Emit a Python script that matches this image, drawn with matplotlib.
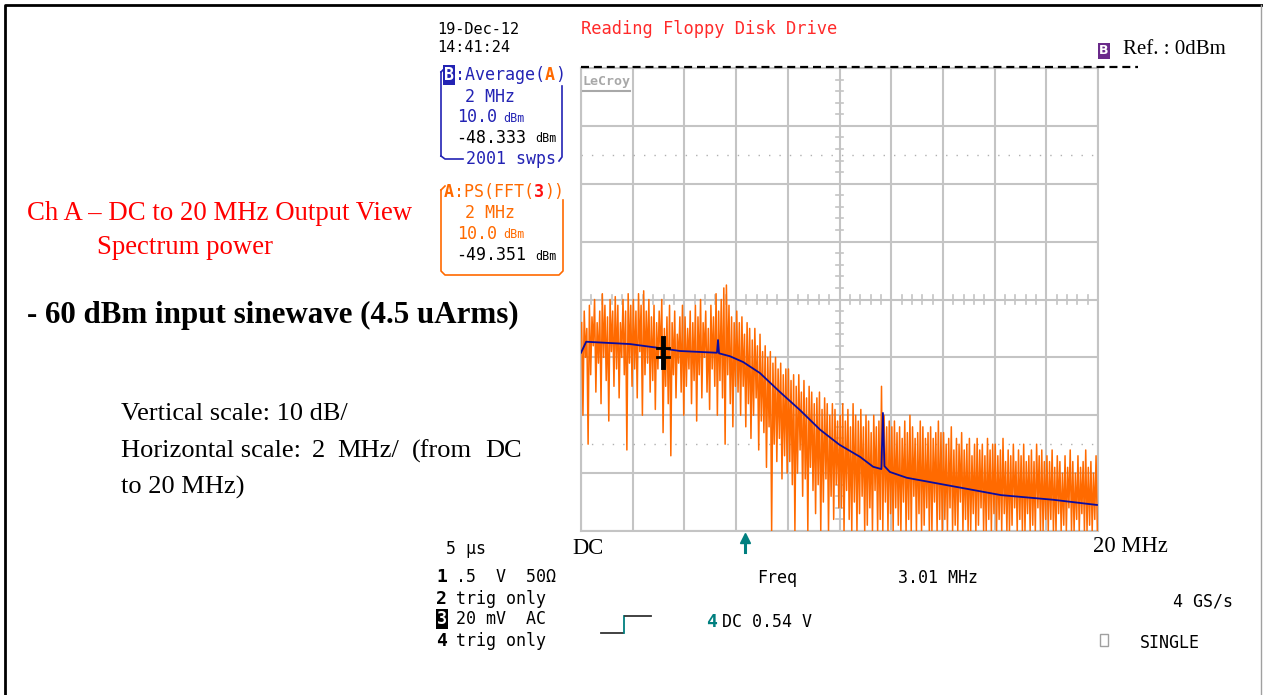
import numpy as np
import matplotlib.pyplot as plt
from matplotlib.lines import Line2D
from matplotlib.patches import Rectangle

W, H = 1263, 695

# Trace B : average, dBm vs MHz
avg_freq = [0.0, 0.2, 1.9, 3.06, 3.83, 5.26, 5.3, 5.34, 5.76, 6.27, 6.92, 7.7, 8.47,
            9.25, 10.0, 10.8, 11.3, 11.62, 11.68, 11.74, 11.95, 12.6, 14.3, 16.25,
            18.26, 19.96]
avg_dbm = [-49.2, -47.3, -47.7, -48.4, -48.9, -49.2, -47.0, -49.3, -49.8, -50.8, -52.7,
           -56.0, -59.1, -62.5, -65.1, -67.2, -68.9, -69.3, -59.6, -68.8, -69.8, -70.8,
           -72.2, -73.8, -74.6, -75.5]

# Trace A : PS(FFT) read as max / min per 0.1 MHz bin (one row = one 2 MHz division)
fft_hi = [
    -44, -42, -45, -41, -43, -40, -44, -42, -39, -41, -43, -40, -42, -39.5, -41, -44, -40, -42, -39, -41,
    -40, -42, -39, -41, -38.5, -42, -40, -43, -41, -44, -42, -40, -45, -43, -41, -44, -42, -46, -43, -41,
    -43, -45, -42, -44, -41, -43, -40, -44, -42, -45, -41, -43, -39, -42, -40, -38, -37.5, -41, -43, -44,
    -42, -44, -43, -46, -44, -45, -47, -45, -48, -46, -49, -48, -50, -49, -51, -50, -52, -51, -53, -52,
    -52, -54, -53, -55, -53, -56, -54, -57, -55, -56, -58, -57, -56, -59, -57, -58, -60, -58, -59, -61,
    -60, -58, -61, -59, -62, -58, -60, -61, -59, -62, -60, -61, -63, -60, -62, -61, -55, -60, -62, -61,
    -62, -61, -63, -62, -64, -61, -63, -60, -62, -64, -63, -61, -62, -64, -63, -62, -64, -63, -61, -63,
    -63, -65, -64, -62, -66, -64, -65, -63, -66, -65, -64, -67, -65, -64, -66, -65, -67, -64, -66, -65,
    -65, -67, -66, -64, -68, -66, -67, -65, -68, -66, -67, -65, -68, -67, -66, -68, -65, -67, -66, -68,
    -67, -68, -66, -69, -67, -68, -70, -67, -69, -66, -68, -70, -67, -69, -68, -66, -69, -68, -70, -67,
]
fft_lo = [
    -60, -50, -65, -53, -48, -56, -51, -58, -50, -54, -61, -49, -55, -52, -57, -50, -53, -66, -51, -55,
    -52, -57, -49, -60, -53, -51, -56, -54, -59, -52, -50, -63, -55, -58, -67, -53, -57, -51, -56, -60,
    -55, -52, -58, -54, -61, -53, -57, -50, -56, -59, -52, -55, -60, -54, -57, -65, -53, -58, -62, -55,
    -56, -60, -55, -62, -58, -64, -60, -57, -66, -61, -63, -69, -62, -80, -65, -68, -64, -71, -67, -70,
    -68, -72, -80, -70, -66, -74, -71, -80, -69, -73, -77, -72, -80, -75, -71, -80, -74, -78, -72, -76,
    -76, -80, -73, -78, -80, -75, -80, -77, -74, -80, -79, -76, -80, -73, -80, -78, -80, -75, -80, -77,
    -80, -76, -79, -80, -75, -80, -78, -80, -74, -80, -77, -80, -79, -76, -80, -80, -75, -80, -78, -80,
    -78, -80, -76, -80, -79, -80, -75, -80, -78, -80, -80, -77, -80, -79, -76, -80, -80, -78, -80, -77,
    -80, -78, -80, -77, -80, -80, -79, -76, -80, -78, -80, -80, -77, -80, -79, -80, -76, -80, -80, -78,
    -80, -78, -80, -80, -77, -80, -79, -80, -76, -80, -80, -78, -80, -77, -80, -80, -79, -80, -78, -80,
]
fft_freq = np.linspace(0.05, 19.95, len(fft_hi))

cursor_freq = 3.17


def px(x):
    return x / W


def py(y):
    return 1 - y / H


def main():
    fig = plt.figure(figsize=(W / 100, H / 100), dpi=100)
    fig.patch.set_facecolor('white')

    grid_col = '#c4c4c4'
    blue = '#2323b4'
    orange = '#ff6a00'
    teal = '#007f7f'

    # screen grid
    ax = fig.add_axes([px(581), py(531), (1098 - 581) / W, (531 - 68) / H])
    ax.set_xlim(0, 20)
    ax.set_ylim(-80, 0)
    ax.set_xticks(np.arange(0, 21, 2))
    ax.set_yticks(np.arange(-80, 1, 10))
    ax.tick_params(length=0, labelbottom=False, labelleft=False)
    ax.grid(True, color=grid_col, lw=1.5)
    for s in ax.spines.values():
        s.set_color(grid_col)
        s.set_linewidth(1.5)
    for lev in (-15, -65):
        ax.axhline(lev, color='#b0b0b0', lw=1, ls=(0, (1, 6.5)))
    # center ticks
    for v in np.arange(-80, 1, 2):
        ax.plot([9.85, 10.15], [v, v], color=grid_col, lw=1.2)
    for f in np.arange(0, 20.01, 0.4):
        ax.plot([f, f], [-40.7, -39.3], color=grid_col, lw=1.2)
    ax.set_axisbelow(True)

    # orange FFT trace
    zx = np.ravel(np.column_stack([fft_freq - 0.025, fft_freq + 0.025]))
    zy = np.ravel(np.column_stack([fft_hi, fft_lo]))
    ax.plot(zx, zy, color=orange, lw=1.1, zorder=3)
    # averaged trace
    ax.plot(avg_freq, avg_dbm, color='#0b0ba0', lw=1.3, zorder=4)
    # cursor
    ax.plot([cursor_freq, cursor_freq], [-46.6, -51.7], color='black', lw=3.5, zorder=5)
    ax.plot([cursor_freq - 0.22, cursor_freq + 0.22], [-48.3, -48.3], color='black', lw=2, zorder=5)
    ax.plot([cursor_freq - 0.22, cursor_freq + 0.22], [-49.9, -49.9], color='black', lw=2, zorder=5)

    # reference dashed line
    fig.add_artist(Line2D([px(581), px(1138)], [py(67), py(67)], color='black',
                          lw=1.6, dashes=(3.6, 2.2)))
    fig.text(px(1104), py(51), 'B', color='white', fontsize=9, fontweight='bold',
             ha='center', va='center',
             bbox=dict(boxstyle='square,pad=0.1', fc='#6a2a8a', ec='none'))
    fig.text(px(1123), py(49), 'Ref. : 0dBm', family='Liberation Serif', fontsize=15,
             ha='left', va='center')

    # LeCroy logo
    fig.text(px(583), py(81), 'LeCroy', color='#a8a8a8', fontsize=9.5, fontweight='bold',
             family='DejaVu Sans Mono', ha='left', va='center')
    fig.add_artist(Line2D([px(583), px(630)], [py(91), py(91)], color='#a8a8a8', lw=1.5))

    mono = dict(family='DejaVu Sans Mono', fontsize=12, va='center', ha='left')

    def mtext(x, y, s, color='black', **kw):
        d = dict(mono)
        d.update(kw)
        fig.text(px(x), py(y), s, color=color, **d)

    mtext(437, 29, '19-Dec-12', fontsize=11)
    mtext(437, 48, '14:41:24', fontsize=11)
    mtext(581, 29, 'Reading Floppy Disk Drive', color='#ff2a2a', fontsize=12.3)

    # B box
    mtext(444, 75, 'B', color='white', fontweight='bold',
          bbox=dict(boxstyle='square,pad=0.05', fc=blue, ec='none'))
    mtext(455, 75, ':Average(', color=blue)
    mtext(545, 75, 'A', color=orange, fontweight='bold')
    mtext(555, 75, ')', color=blue)
    mtext(465, 97, '2 MHz', color=blue)
    mtext(457, 117, '10.0', color=blue)
    mtext(503, 118, 'dBm', color=blue, fontsize=8.5)
    mtext(456, 138, '-48.333', color='black')
    mtext(535, 139, 'dBm', color='black', fontsize=8.5)
    mtext(466, 159, '2001 swps', color=blue)
    for xs, ys in [([441, 441], [72, 156]), ([441, 445, 463], [156, 159, 159]),
                   ([441, 445], [72, 68]), ([562, 562, 559], [86, 157, 161])]:
        fig.add_artist(Line2D([px(v) for v in xs], [py(v) for v in ys], color=blue, lw=1.2))

    # A box
    mtext(444, 192, 'A', color=orange, fontweight='bold')
    mtext(454, 192, ':PS(FFT(', color=orange)
    mtext(534, 192, '3', color='#ff1010', fontweight='bold')
    mtext(544, 192, '))', color=orange)
    mtext(465, 213, '2 MHz', color=orange)
    mtext(457, 234, '10.0', color=orange)
    mtext(503, 235, 'dBm', color=orange, fontsize=8.5)
    mtext(456, 255, '-49.351', color='black')
    mtext(535, 256, 'dBm', color='black', fontsize=8.5)
    for xs, ys in [([441, 441, 445, 559, 563, 563], [190, 271, 275, 275, 271, 200]),
                   ([441, 445], [190, 186])]:
        fig.add_artist(Line2D([px(v) for v in xs], [py(v) for v in ys], color=orange, lw=1.2))

    # annotation texts on the left
    serif = 'Liberation Serif'

    def stext(x, y, s, size=19, ha='left', **kw):
        fig.text(px(x), py(y), s, family=serif, fontsize=size, va='center', ha=ha, **kw)

    stext(27, 213, 'Ch A \u2013 DC to 20 MHz Output View', size=19.3, color='#ff0000')
    stext(185, 247, 'Spectrum power', size=19.3, color='#ff0000', ha='center')
    stext(27, 315, '- 60 dBm input sinewave (4.5 uArms)', size=22.3, fontweight='bold')
    stext(121, 414, 'Vertical scale: 10 dB/')
    stext(121, 451, 'Horizontal scale:')
    stext(312, 451, '2')
    stext(337, 451, 'MHz/')
    stext(412, 451, '(from')
    stext(485, 451, 'DC')
    stext(121, 487, 'to 20 MHz)')
    stext(572, 548, 'DC', size=16.3)
    stext(1093, 547, '20 MHz', size=16.3)

    # trigger arrow
    fig.add_artist(Line2D([px(745), px(745)], [py(552), py(539)], color=teal, lw=2.2))
    fig.add_artist(Line2D([px(745)], [py(538)], marker='^', ms=7, color=teal, mec=teal))

    # bottom status area
    mtext(446, 549, '5 \u03bcs')
    mtext(436, 577, '1', fontweight='bold', fontsize=13)
    mtext(456, 577, '.5  V  50\u03a9')
    mtext(436, 599, '2', fontweight='bold', fontsize=13)
    mtext(456, 599, 'trig only')
    mtext(437, 619, '3', color='white', fontweight='bold',
          bbox=dict(boxstyle='square,pad=0.05', fc='black', ec='none'))
    mtext(456, 619, '20 mV  AC')
    mtext(436, 641, '4', fontweight='bold', fontsize=13)
    mtext(456, 641, 'trig only')
    mtext(757, 578, 'Freq')
    mtext(898, 578, '3.01 MHz')
    mtext(1233, 601, '4 GS/s', ha='right')
    mtext(706, 622, '4', color=teal, fontweight='bold', fontsize=13)
    mtext(722, 622, 'DC 0.54 V')
    mtext(1140, 643, 'SINGLE')
    fig.add_artist(Rectangle((px(1100), py(646)), 8 / W, 12 / H, fill=False,
                             ec='#a0a0a0', lw=1))
    fig.add_artist(Line2D([px(601), px(623)], [py(633), py(633)], color='#333333', lw=1.3))
    fig.add_artist(Line2D([px(624), px(624)], [py(633), py(616)], color=teal, lw=1.3))
    fig.add_artist(Line2D([px(625), px(651)], [py(616), py(616)], color='#333333', lw=1.3))

    # frame around the slide
    fig.add_artist(Line2D([px(5), px(5), px(1262)], [py(700), py(5), py(5)],
                          color='black', lw=2))
    fig.add_artist(Line2D([px(1261), px(1261)], [py(5), py(700)], color='#a0a0a0', lw=1))

    fig.savefig('out.png', dpi=100)


if __name__ == "__main__":
    main()
